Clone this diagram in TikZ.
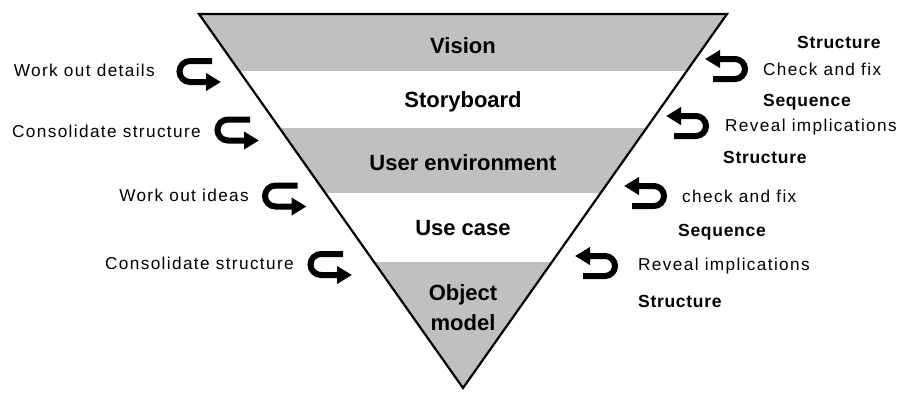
\documentclass[tikz,border=0pt]{standalone}
\usepackage{fontspec}
\setmainfont{Liberation Sans}
\usetikzlibrary{arrows.meta}
\definecolor{bandgray}{RGB}{192,192,192}
\begin{document}
\begin{tikzpicture}[x=1pt,y=-1pt,
  band/.style={fill=bandgray},
  layer/.style={anchor=base,inner sep=0pt,font=\fontsize{22}{26}\selectfont\bfseries},
  note/.style={inner sep=0pt,font=\fontsize{17.2}{20}\selectfont\addfontfeature{LetterSpace=8}},
  keyword/.style={inner sep=0pt,anchor=base west,font=\fontsize{17.5}{20}\selectfont\bfseries\addfontfeature{LetterSpace=4}},
  loop/.style={line width=6pt,-{Triangle[length=15pt,width=17pt]}},
]
\useasboundingbox[fill=white] (0,0) rectangle (902,392);

% funnel outline
\coordinate (A) at (199,14);
\coordinate (B) at (727,14);
\coordinate (C) at (463,388);

% grey bands inside the funnel
\begin{scope}
  \clip (A) -- (B) -- (C) -- cycle;
  \fill[band] (150,10) rectangle (780,71);
  \fill[band] (150,128) rectangle (780,193);
  \fill[band] (150,262) rectangle (780,400);
\end{scope}
\draw[line width=2.2pt,line join=miter] (A) -- (B) -- (C) -- cycle;

% layer names
\node[layer] (vision) at (463,53.3) {Vision};
\node[layer] (story) at (463,107) {Storyboard};
\node[layer] (userenv) at (463,170) {User environment};
\node[layer] (usecase) at (463,235) {Use case};
\node[layer] (object) at (463,300.7) {Object};
\node[layer] (model) at (463,330) {model};

% loops on the left: top arm, turn on the left, arrow to the right
\foreach \n/\cx/\cy in {1/190/71.5, 2/228/130, 3/275.5/196, 4/321/264.5}{
  \coordinate (lt\n) at (\cx,\cy);
  \draw[loop] ([shift={(22,-10.5)}]lt\n) -- ([shift={(0,-10.5)}]lt\n)
    arc[start angle=90,end angle=270,radius=10.5pt] -- ([shift={(31,10.5)}]lt\n);
}

% loops on the right: bottom arm, turn on the right, arrow to the left
\foreach \n/\cx/\cy in {1/735/69, 2/696/126, 3/654/196, 4/605/266}{
  \coordinate (rt\n) at (\cx,\cy);
  \draw[loop] ([shift={(-22,10)}]rt\n) -- ([shift={(0,10)}]rt\n)
    arc[start angle=-90,end angle=90,radius=10pt] -- ([shift={(-30,-10)}]rt\n);
}

% left notes
\node[note,anchor=base east] (l1) at (155,76) {Work out details};
\node[note,anchor=base east] (l2) at (201,137) {Consolidate structure};
\node[note,anchor=base east] (l3) at (249,201) {Work out ideas};
\node[note,anchor=base east] (l4) at (294,269) {Consolidate structure};

% right notes
\node[keyword] (r1) at (797,48) {Structure};
\node[note,anchor=base west] (r2) at (763,75) {Check and fix};
\node[keyword] (r3) at (763,106) {Sequence};
\node[note,anchor=base west] (r4) at (725,131) {Reveal implications};
\node[keyword] (r5) at (723,163) {Structure};
\node[note,anchor=base west] (r6) at (682,202) {check and fix};
\node[keyword] (r7) at (678,236) {Sequence};
\node[note,anchor=base west] (r8) at (638,270) {Reveal implications};
\node[keyword] (r9) at (638,307) {Structure};
\end{tikzpicture}
\end{document}
